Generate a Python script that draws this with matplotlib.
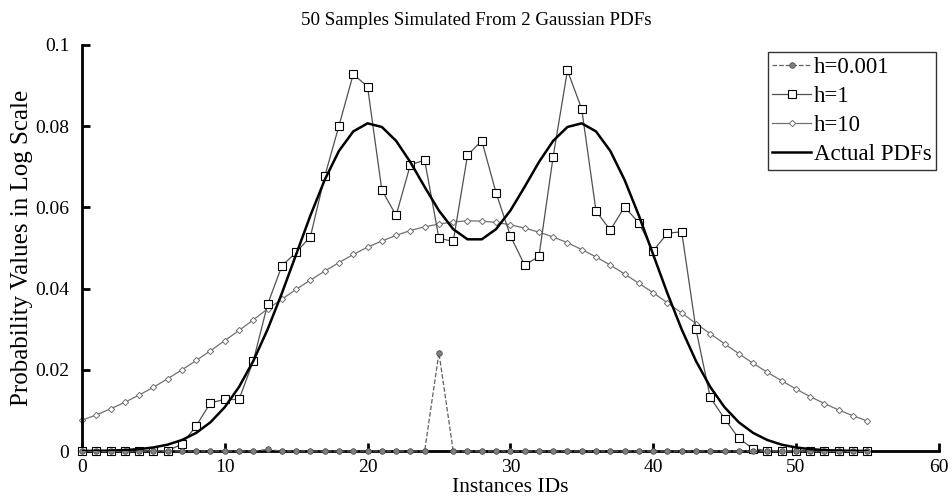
import matplotlib
matplotlib.use("Agg")
import matplotlib.pyplot as plt
import numpy as np

plt.rcParams['font.family'] = ['Liberation Serif', 'DejaVu Serif']

# instance ids 0..55
ids = np.arange(56)

# h = 0.001 (nearly zero everywhere, one spike)
h_001 = [0.0] * 56
h_001[13] = 0.0004
h_001[25] = 0.0242

# h = 1
h_1 = [0.0, 0.0, 0.0, 0.0, 0.0, 0.0001, 0.0001, 0.0017, 0.0062, 0.0119,
       0.0127, 0.0127, 0.0222, 0.0361, 0.0456, 0.0489, 0.0528, 0.0676, 0.0801, 0.0928,
       0.0897, 0.0643, 0.0580, 0.0705, 0.0716, 0.0524, 0.0516, 0.0728, 0.0764, 0.0636,
       0.0530, 0.0458, 0.0479, 0.0725, 0.0937, 0.0842, 0.0591, 0.0544, 0.0601, 0.0562,
       0.0493, 0.0536, 0.0540, 0.0300, 0.0132, 0.0080, 0.0031, 0.0006, 0.0001, 0.0,
       0.0, 0.0, 0.0, 0.0, 0.0, 0.0]

# h = 10
h_10 = [0.0076, 0.0089, 0.0104, 0.0120, 0.0138, 0.0157, 0.0178, 0.0200, 0.0223, 0.0247,
        0.0272, 0.0297, 0.0323, 0.0350, 0.0374, 0.0398, 0.0421, 0.0443, 0.0464, 0.0484,
        0.0502, 0.0517, 0.0531, 0.0543, 0.0552, 0.0559, 0.0564, 0.0567, 0.0566, 0.0563,
        0.0557, 0.0549, 0.0539, 0.0527, 0.0513, 0.0496, 0.0478, 0.0458, 0.0436, 0.0413,
        0.0390, 0.0365, 0.0340, 0.0314, 0.0289, 0.0264, 0.0240, 0.0216, 0.0194, 0.0173,
        0.0153, 0.0134, 0.0117, 0.0101, 0.0087, 0.0074]

# actual mixture pdf
actual = [0.00003, 0.00006, 0.00012, 0.00025, 0.00048, 0.00089, 0.00158, 0.00272, 0.00448, 0.00709,
          0.0108, 0.01579, 0.02218, 0.02995, 0.03884, 0.04842, 0.058, 0.06677, 0.0739, 0.07869,
          0.08068, 0.07979, 0.07637, 0.07113, 0.06503, 0.05919, 0.05463, 0.05213, 0.05213, 0.05463,
          0.05919, 0.06503, 0.07113, 0.07637, 0.07979, 0.08068, 0.07869, 0.0739, 0.06677, 0.058,
          0.04842, 0.03884, 0.02995, 0.02218, 0.01579, 0.0108, 0.00709, 0.00448, 0.00272, 0.00158,
          0.00089, 0.00048, 0.00025, 0.00012, 0.00006, 0.00003]

fig = plt.figure(figsize=(9.53, 5.04), dpi=100)
ax = fig.add_axes([0.086, 0.105, 0.899, 0.806])

ax.plot(ids, h_001, '--o', color='#606060', lw=0.9, ms=4,
        mfc='#808080', mec='#505050', mew=0.6, label='h=0.001', zorder=4, clip_on=False)
ax.plot(ids, h_1, '-s', color='#505050', lw=0.9, ms=5.5,
        mfc='white', mec='black', mew=0.8, label='h=1', zorder=3, clip_on=False)
ax.plot(ids, h_10, '-D', color='#707070', lw=0.9, ms=3.2,
        mfc='white', mec='#707070', mew=0.7, label='h=10', zorder=2, clip_on=False)
ax.plot(ids, actual, '-', color='black', lw=1.8, label='Actual PDFs', zorder=5)

ax.set_xlim(0, 60)
ax.set_ylim(0, 0.1)
ax.set_xticks([0, 10, 20, 30, 40, 50, 60])
ax.set_yticks([0, 0.02, 0.04, 0.06, 0.08, 0.1])
ax.set_yticklabels(['0', '0.02', '0.04', '0.06', '0.08', '0.1'])

for side in ['top', 'right']:
    ax.spines[side].set_visible(False)
for side in ['left', 'bottom']:
    ax.spines[side].set_linewidth(2)
ax.tick_params(direction='in', length=6, width=2, labelsize=14)
ax.tick_params(axis='x', pad=6)
ax.tick_params(axis='y', pad=9)

fig.text(0.5, 0.96, '50 Samples Simulated From 2 Gaussian PDFs', fontsize=13.7,
         ha='center', va='center')
ax.set_xlabel('Instances IDs', fontsize=15.5, labelpad=1)
ax.set_ylabel('Probability Values in Log Scale', fontsize=18, labelpad=2)

leg = ax.legend(loc='upper right', bbox_to_anchor=(0.982, 0.897), bbox_transform=fig.transFigure,
                fontsize=16.5, frameon=True, fancybox=False, edgecolor='black',
                handlelength=1.7, handletextpad=0.1, borderpad=0.2, labelspacing=0.36,
                borderaxespad=0)
leg.get_frame().set_linewidth(1.0)

fig.savefig('out.png', dpi=100)
